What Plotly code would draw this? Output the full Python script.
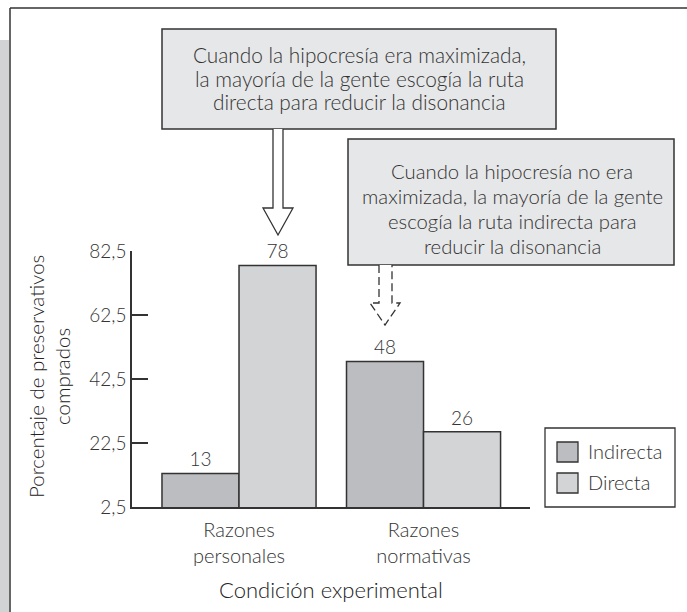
import plotly.graph_objects as go

# ---- data ----
categories = ["Razones<br>personales", "Razones<br>normativas"]
series_names = ["Indirecta", "Directa"]
indirecta = [13, 48]
directa = [78, 26]
y_ticks = [2.5, 22.5, 42.5, 62.5, 82.5]
y_tick_labels = ["2,5", "22,5", "42,5", "62,5", "82,5"]

callout_top = ["Cuando la hipocresía era maximizada,",
               "la mayoría de la gente escogía la ruta",
               "directa para reducir la disonancia"]
callout_right = ["Cuando la hipocresía no era",
                 "maximizada, la mayoría de la gente",
                 "escogía la ruta indirecta para",
                 "reducir la disonancia"]
y_title = ["Porcentaje de preservativos", "comprados"]
x_title = "Condición experimental"

# ---- styling ----
INK = "#333333"
FONT = "Lato"
WEIGHT = 300
C_IND = "#bcbdc0"
C_DIR = "#d3d4d6"
BOX_FILL = "#e6e7e8"
STRIP = "#d1d3d4"

W, H = 687, 612
L, R, T, B = 132, 530, 251, 507  # plot area in pixels


def px(x):
    return (x - L) / (R - L)


def py(y):
    return (B - y) / (B - T)


def font(size, color=INK):
    return dict(family=FONT, size=size, color=color, weight=WEIGHT)


fig = go.Figure()
for name, vals, col in zip(series_names, [indirecta, directa], [C_IND, C_DIR]):
    fig.add_trace(go.Bar(
        x=categories, y=vals, name=name,
        marker=dict(color=col, line=dict(color=INK, width=1.5)),
        text=vals, texttemplate="%{y}", textposition="outside",
        textfont=font(19),
        cliponaxis=False, showlegend=False,
    ))

shapes = []
annotations = []

# page frame and side strip
shapes.append(dict(type="rect", xref="paper", yref="paper",
                   x0=px(0), x1=px(9), y0=py(40), y1=py(612),
                   fillcolor=STRIP, line=dict(width=0), layer="below"))
shapes.append(dict(type="line", xref="paper", yref="paper",
                   x0=px(10), x1=px(687), y0=py(8), y1=py(8),
                   line=dict(color=INK, width=1.5)))
shapes.append(dict(type="line", xref="paper", yref="paper",
                   x0=px(10), x1=px(10), y0=py(8), y1=py(612),
                   line=dict(color=INK, width=1.5)))

# callout boxes
for (x0, y0, x1, y1) in [(162, 29, 556, 129), (348, 139, 674, 265)]:
    shapes.append(dict(type="rect", xref="paper", yref="paper",
                       x0=px(x0), x1=px(x1), y0=py(y0), y1=py(y1),
                       fillcolor=BOX_FILL, line=dict(color=INK, width=1.5)))


def arrow_path(xl, xr, ytop, yhead, hl, hr, ytip):
    xm = (hl + hr) / 2
    pts = [(xl, ytop), (xl, yhead), (hl, yhead), (xm, ytip),
           (hr, yhead), (xr, yhead), (xr, ytop)]
    return "M " + " L ".join(f"{px(a):.5f},{py(b):.5f}" for a, b in pts)


shapes.append(dict(type="path", xref="paper", yref="paper",
                   path=arrow_path(273, 283, 129, 208, 263, 293, 235),
                   fillcolor="white", line=dict(color=INK, width=1.3)))
shapes.append(dict(type="path", xref="paper", yref="paper",
                   path=arrow_path(379, 392, 265, 303, 370, 400, 325),
                   fillcolor="white", line=dict(color=INK, width=1.3, dash="8px,4px")))


def text_block(lines, cx, cy, size, spacing, angle=0, color=INK):
    """Centred multi-line text with explicit line spacing (pixel coords)."""
    n = len(lines)
    for i, line in enumerate(lines):
        off = (i - (n - 1) / 2) * spacing
        if angle == 0:
            x, y = cx, cy + off
        else:
            x, y = cx + off, cy
        annotations.append(dict(xref="paper", yref="paper", x=px(x), y=py(y),
                                text=line, textangle=angle, showarrow=False,
                                xanchor="center", yanchor="middle",
                                font=font(size, color)))


text_block(callout_top, 359, 78, 20.8, 23.5)
text_block(callout_right, 512, 208, 20.3, 25)
text_block(y_title, 49, 377, 20.5, 26, angle=-90, color="#222222")
text_block([x_title], 331, 589, 22, 0, color="#222222")

# legend box
shapes.append(dict(type="rect", xref="paper", yref="paper",
                   x0=px(545), x1=px(675), y0=py(428), y1=py(507),
                   fillcolor="white", line=dict(color=INK, width=1.3)))
for i, (name, col) in enumerate(zip(series_names, [C_IND, C_DIR])):
    yt = 442 + i * 31
    shapes.append(dict(type="rect", xref="paper", yref="paper",
                       x0=px(557), x1=px(578), y0=py(yt), y1=py(yt + 20),
                       fillcolor=col, line=dict(color=INK, width=1.3)))
    annotations.append(dict(xref="paper", yref="paper", x=px(586), y=py(yt + 9),
                            text=name, showarrow=False, xanchor="left", yanchor="middle",
                            font=font(20)))

fig.update_layout(
    width=W, height=H, autosize=False,
    margin=dict(l=L, r=W - R, t=T, b=H - B, pad=0),
    paper_bgcolor="white", plot_bgcolor="white",
    barmode="group", bargap=0.165, bargroupgap=0,
    font=dict(family=FONT, color=INK),
    shapes=shapes, annotations=annotations,
    xaxis=dict(range=[-0.58, 1.577], showline=True, linecolor=INK, linewidth=1.5,
               ticks="", showgrid=False, zeroline=False,
               tickfont=font(20), ticklabelstandoff=4),
    yaxis=dict(range=[2.5, 82.5], tickvals=y_ticks, ticktext=y_tick_labels,
               showline=True, linecolor=INK, linewidth=1.5,
               ticks="inside", ticklen=16, tickwidth=1.5, tickcolor=INK,
               showgrid=False, zeroline=False,
               tickfont=font(19)),
)

fig.write_html("out.html")
